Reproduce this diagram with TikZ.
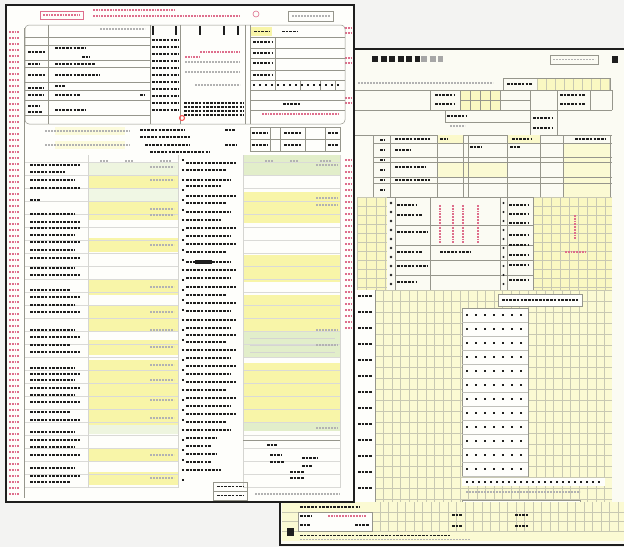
\documentclass[tikz,border=0pt]{standalone}

\definecolor{backdrop}{RGB}{243,243,242}
\definecolor{paper}{RGB}{254,254,251}
\definecolor{backpaper}{RGB}{251,251,243}
\definecolor{formyellow}{RGB}{248,245,168}
\definecolor{formgreen}{RGB}{226,238,202}
\definecolor{ruling}{RGB}{150,150,140}
\definecolor{gridgray}{RGB}{200,200,178}
\definecolor{ink}{RGB}{30,30,30}
\definecolor{pinkink}{RGB}{222,110,140}

\begin{document}
\begin{tikzpicture}[x=1pt, y=-1pt]
        \tikzstyle{sheet_style} = [rectangle, fill=paper, inner sep=0pt, outer sep=0pt]
        \tikzstyle{rule_line} = [draw=ruling, line width=0.5]
        \tikzstyle{grid_line} = [draw=gridgray, line width=0.45]
        \tikzstyle{ink_text} = [draw=ink, line width=1.5, dash pattern=on 2.6pt off 1.1pt]
        \tikzstyle{gray_text} = [draw=gray!60, line width=1.3, dash pattern=on 2pt off 1pt]
        \tikzstyle{pink_text} = [draw=pinkink, line width=1.2, dash pattern=on 1.8pt off 1pt]
        \tikzstyle{title_text} = [draw=ink, line width=6, dash pattern=on 6pt off 2.5pt]

        \useasboundingbox (0,0) rectangle (624,547);
        \fill[backdrop] (0,0) rectangle (624,547);

        % ---- sheet behind ----
        \node[sheet_style, fill=backpaper, minimum width=344pt, minimum height=496pt] (back_sheet) at (452,297) {};

        % title line
        \draw[title_text] (372,59) -- (420,59);
        \draw[title_text, draw=gray!70] (421,59) -- (443,59);
        \draw[rule_line] (550,55) rectangle (598,64);
        \draw[gray_text] (553,59.5) -- (595,59.5);
        \fill[ink] (612,56) rectangle (618,63);

        % notes row
        \draw[gray_text] (358,83) -- (493,83);
        \fill[formyellow!70] (537,78) rectangle (610,90);
        \foreach \x in {537,546,...,610} \draw[grid_line] (\x,78) -- (\x,90);
        \draw[rule_line] (503,78) rectangle (610,90);
        \draw[ink_text] (507,84) -- (532,84);

        % header table
        \fill[formyellow!70] (460,90) rectangle (500,110);
        \foreach \y in {90,110,135} \draw[rule_line] (355,\y) -- (612,\y);
        \foreach \x in {430,460,470,480,490,500,530,557,590,612} \draw[rule_line] (\x,90) -- (\x,110);
        \draw[rule_line] (460,100) -- (530,100);
        \draw[rule_line] (445,110) -- (445,122) -- (530,122);
        \draw[rule_line] (530,110) -- (530,135)  (557,110) -- (557,135);
        \foreach \x/\y/\w in {435/95/20, 435/104/20, 560/95/25, 560/104/25, 447/116/20, 533/118/20, 533/128/20}
            \draw[ink_text] (\x,\y) -- ++(\w,0);
        \draw[gray_text] (450,126) -- (465,126);

        % second table
        \fill[formyellow!60] (437,135) rectangle (463,143);
        \fill[formyellow!60] (507,135) rectangle (540,143);
        \fill[formyellow!50] (563,143) rectangle (610,197);
        \fill[formyellow!50] (437,162) rectangle (507,177);
        \foreach \y in {143,157,162,177,183,197} \draw[rule_line] (373,\y) -- (612,\y);
        \foreach \x in {373,390,437,463,468,507,540,563,610} \draw[rule_line] (\x,135) -- (\x,197);
        \foreach \x/\y/\w in {395/139/35, 395/150/15, 395/167/30, 395/180/35, 470/147/12, 510/147/10, 575/139/30, 440/139/8, 512/139/20}
            \draw[ink_text] (\x,\y) -- ++(\w,0);
        \foreach \y in {140,150,...,195} \draw[ink_text, line width=1.2] (380,\y) -- ++(4,0);

        % middle zone
        \fill[formyellow!70] (357,197) rectangle (387,290);
        \fill[formyellow!70] (533,197) rectangle (612,290);
        \foreach \x in {357,366.5,...,387} \draw[grid_line] (\x,197) -- (\x,290);
        \foreach \x in {533,542,...,612} \draw[grid_line] (\x,197) -- (\x,290);
        \foreach \y in {197,206,...,290} \draw[grid_line] (357,\y) -- (387,\y)  (533,\y) -- (612,\y);
        \foreach \y in {197,225,245,260,275,290} \draw[rule_line] (395,\y) -- (533,\y);
        \foreach \x in {395,430,500,507,533} \draw[rule_line] (\x,197) -- (\x,290);
        \foreach \y in {203,212,...,284} \fill[ink] (391,\y) circle (1.3)  (503.5,\y) circle (1.2);
        \foreach \y/\w in {205/20, 215/25, 232/30, 252/25, 266/30, 282/20}
            \draw[ink_text] (397,\y) -- ++(\w,0);
        \foreach \y in {205,214,223,235,245,255,265,280} \draw[ink_text] (509,\y) -- ++(20,0);
        \foreach \x in {440,453,463,478} \draw[pink_text] (\x,205) -- (\x,243);
        \draw[pink_text] (575,215) -- (575,240)  (565,252) -- (585,252);
        \draw[ink_text] (440,252) -- (470,252);

        % main grid
        \fill[formyellow!50] (375,290) rectangle (612,502);
        \foreach \x in {375,383.5,...,612} \draw[grid_line] (\x,290) -- (\x,502);
        \foreach \y in {290,301,...,502} \draw[grid_line] (375,\y) -- (612,\y);
        \fill[paper] (355,290) rectangle (375,502);
        \draw[rule_line] (375,290) -- (375,502);
        \foreach \y in {296,312,...,496} \draw[ink_text] (358,\y) -- ++(14,0);
        \fill[paper] (498,294) rectangle (582,306);
        \draw[rule_line] (498,294) rectangle (582,306);
        \draw[ink_text] (502,300) -- (578,300);
        \fill[paper] (462,308) rectangle (528,476);
        \draw[rule_line] (462,308) rectangle (528,476);
        \foreach \y in {322,336,...,476} \draw[rule_line, draw=ruling!60] (462,\y) -- (528,\y);
        \foreach \y in {315,329,...,470} \draw[ink_text, dash pattern=on 2pt off 7pt] (466,\y) -- (526,\y);
        \fill[paper] (462,478) rectangle (605,486);
        \draw[ink_text, dash pattern=on 2pt off 4pt] (466,482) -- (600,482);
        \draw[gray_text] (466,492) -- (580,492);
        \fill[paper] (462,500) rectangle (580,510);
        \draw[rule_line] (462,500) rectangle (580,510);
        \draw[ink_text] (466,505) -- (575,505);

        % bottom strip
        \fill[formyellow!50] (282,502) rectangle (624,541);
        \foreach \x in {380,388.5,...,624} \draw[grid_line] (\x,502) -- (\x,531);
        \foreach \y in {512,521,531} \draw[grid_line] (282,\y) -- (624,\y);
        \fill[paper] (298,512) rectangle (372,531);
        \draw[rule_line] (298,512) rectangle (372,531);
        \draw[pink_text, line width=2] (328,515.5) -- (366,515.5);
        \foreach \x/\y/\w in {300/507/60, 300/516/12, 300/525/10, 355/525/14, 452/515/10, 452/526/10, 515/515/13, 515/526/13}
            \draw[ink_text] (\x,\y) -- ++(\w,0);
        \fill[ink] (287,528) rectangle (294,536);
        \draw[ink_text, line width=1] (300,535) -- (450,535);
        \draw[gray_text, line width=0.8] (300,539) -- (470,539);

        % edges of the sheet behind
        \draw[ink, line width=2] (354,49) -- (back_sheet.north east);
        \draw[ink, line width=2.6] (280,502) -- (back_sheet.south west) -- (back_sheet.south east);

        % ---- front sheet ----
        \node[sheet_style, minimum width=348pt, minimum height=497pt] (front_sheet) at (180,253.5) {};

        % header
        \draw[pinkink, line width=0.5] (40,11) rectangle (83,19);
        \draw[pink_text] (43,15) -- (80,15);
        \draw[pink_text] (93,10) -- (175,10);
        \draw[pink_text] (93,16) -- (240,16);
        \draw[pinkink, line width=0.6] (256,14) circle (3);
        \draw[rule_line] (288,11) rectangle (333,21);
        \draw[gray_text] (292,16) -- (330,16);

        % margins
        \foreach \y in {32,38,...,498} \draw[pink_text] (9,\y) -- ++(11,0);
        \draw[rule_line] (24,28) -- (24,498);
        \foreach \y in {28,33,58,63,98,103,160,166,...,330} \draw[pink_text] (345,\y) -- ++(6,0);

        % upper block
        \draw[rule_line, rounded corners=4] (25,25) rectangle (345,124);
        \foreach \y in {37,45,60,67,82,90,100,115} \draw[rule_line] (25,\y) -- (150,\y);
        \foreach \x in {48,150,180,245,250} \draw[rule_line] (\x,25) -- (\x,124);
        \draw[gray_text] (100,29) -- (145,29);
        \foreach \x in {153,176,200,224,238} \draw[ink, line width=2.5] (\x,26) -- (\x,35);
        \foreach \x/\y/\w in {55/48/30, 82/57/8, 55/64/40, 55/75/45, 55/86/10, 55/95/25, 140/95/5, 55/110/30,
                              28/52/17, 28/64/12, 28/75/17, 28/88/15, 28/95/15, 28/106/12, 28/112/14}
            \draw[ink_text] (\x,\y) -- ++(\w,0);
        \foreach \y in {40,47,...,112} \draw[ink_text] (152,\y) -- ++(26,0);
        \foreach \x/\y/\w in {185/62/55, 185/72/55, 195/85/45} \draw[gray_text] (\x,\y) -- ++(\w,0);
        \draw[pink_text] (200,52) -- (240,52)  (185,57) -- (200,57);
        \foreach \y in {103,107,...,116} \draw[ink_text, line width=2] (184,\y) -- (244,\y);
        \draw[red!70, line width=1] (182,118) circle (2.5);
        \fill[formyellow] (251,27) rectangle (272,36);
        \draw[ink_text] (254,31.5) -- (269,31.5)  (282,31.5) -- (298,31.5);
        \foreach \y in {37,48,58,70,80,90,100,110} \draw[rule_line] (250,\y) -- (345,\y);
        \draw[rule_line] (275,37) -- (275,80);
        \foreach \y in {42,53,63,75} \draw[ink_text] (253,\y) -- ++(19,0);
        \foreach \x in {275,300,320,335} \draw[rule_line] (\x,80) -- (\x,90);
        \draw[ink_text, dash pattern=on 2pt off 4pt] (253,85) -- (340,85);
        \draw[ink_text] (283,104) -- (300,104);
        \draw[pink_text] (262,114) -- (340,114);

        % second block
        \fill[formyellow!40] (55,127) rectangle (125,135);
        \fill[formyellow!40] (55,141) rectangle (125,149);
        \draw[gray_text] (45,131) -- (130,131)  (45,145) -- (130,145);
        \foreach \x/\y/\w in {140/130/45, 140/137/50, 145/145/45, 150/152/60, 225/130/10, 225/145/12}
            \draw[ink_text] (\x,\y) -- ++(\w,0);
        \draw[rule_line] (250,127) rectangle (340,151);
        \draw[rule_line] (250,139) -- (340,139);
        \foreach \x in {270,280,305,325} \draw[rule_line] (\x,127) -- (\x,151);
        \foreach \x/\y/\w in {252/133/15, 284/133/18, 328/133/10, 252/145/15, 284/145/18, 328/145/10}
            \draw[ink_text, line width=1.1] (\x,\y) -- ++(\w,0);

        % body fields
        \fill[formgreen!60] (88,162) rectangle (178,175);
        \fill[formgreen!50] (88,188) rectangle (178,202);
        \foreach \a/\b in {175/188, 202/220, 238/252, 280/295, 305/332, 340/355, 360/425, 448/462, 472/485}
            \fill[formyellow] (88,\a) rectangle (178,\b);
        \fill[formgreen!60] (88,425) rectangle (178,434);
        \fill[formgreen] (243,155) rectangle (340,175);
        \foreach \a/\b in {192/223, 255/282, 295/332, 363/423}
            \fill[formyellow] (243,\a) rectangle (340,\b);
        \fill[formgreen] (243,332) rectangle (340,357);
        \fill[formgreen] (243,423) rectangle (340,431);
        \foreach \y in {162,175,...,488} \draw[rule_line, draw=ruling!35] (25,\y) -- (178,\y)  (243,\y) -- (340,\y);
        \foreach \y in {338,345,352} \draw[rule_line, draw=ruling!40] (250,\y) -- (335,\y);
        \foreach \x in {88,178,243,340} \draw[rule_line, draw=ruling!40] (\x,155) -- (\x,488);

        % column heads
        \foreach \x/\w in {100/8, 125/8, 160/12, 265/8, 290/8, 320/12} \draw[gray_text] (\x,161) -- ++(\w,0);

        % printed amounts
        \foreach \y in {167,180,209,215,245,287,312,330,347,365,380,400,418,455,478}
            \draw[gray_text] (150,\y) -- ++(24,0);
        \foreach \y in {165,198,205,330,345,428} \draw[gray_text] (316,\y) -- ++(22,0);

        % left labels
        \foreach \y/\w in {165/50, 172/35, 180/45, 188/50, 200/10, 214/45, 222/50, 228/50, 235/45, 242/50, 250/45,
                           258/50, 268/45, 275/50, 290/40, 297/50, 305/45, 312/50, 330/45, 337/50, 345/40, 352/50,
                           368/45, 374/50, 380/45, 388/50, 395/45, 402/50, 412/40, 420/50, 432/45, 440/50, 447/45,
                           455/50, 468/45, 476/50, 482/40}
            \draw[ink_text] (30,\y) -- ++(\w,0);

        % middle labels
        \foreach \y/\w in {163/50, 170/40, 180/45, 186/35, 196/50, 203/40, 212/45, 220/35, 228/50, 236/45,
                           244/50, 252/40, 262/45, 270/50, 278/45, 287/50, 295/40, 303/50, 311/45, 320/50,
                           328/45, 335/50, 342/40, 350/50, 358/45, 366/50, 374/45, 382/50, 390/40, 398/50,
                           406/45, 414/50, 422/40, 430/45, 438/30, 446/25, 454/30, 462/25, 470/35}
            \draw[ink_text] (186,\y) -- ++(\w,0);
        \fill[ink] (195,260) rectangle (212,264);
        \foreach \y in {160,170,...,480} \draw[ink_text, line width=1.2] (182,\y) -- ++(2,0);

        % lower right block
        \draw[rule_line] (243,440) -- (340,440);
        \foreach \x/\y/\w in {267/445/10, 270/455/12, 270/462/14, 302/458/15, 290/472/14, 290/478/14, 302/466/10}
            \draw[ink_text] (\x,\y) -- ++(\w,0);
        \draw[gray_text] (255,494) -- (340,494);
        \draw[rule_line] (213,482) rectangle (247,500);
        \draw[rule_line] (213,491) -- (247,491);
        \draw[ink_text, line width=1.1] (217,486.5) -- (243,486.5)  (217,495.5) -- (243,495.5);

        % frame
        \draw[ink, line width=2.2] (front_sheet.north west) rectangle (front_sheet.south east);

\end{tikzpicture}
\end{document}
